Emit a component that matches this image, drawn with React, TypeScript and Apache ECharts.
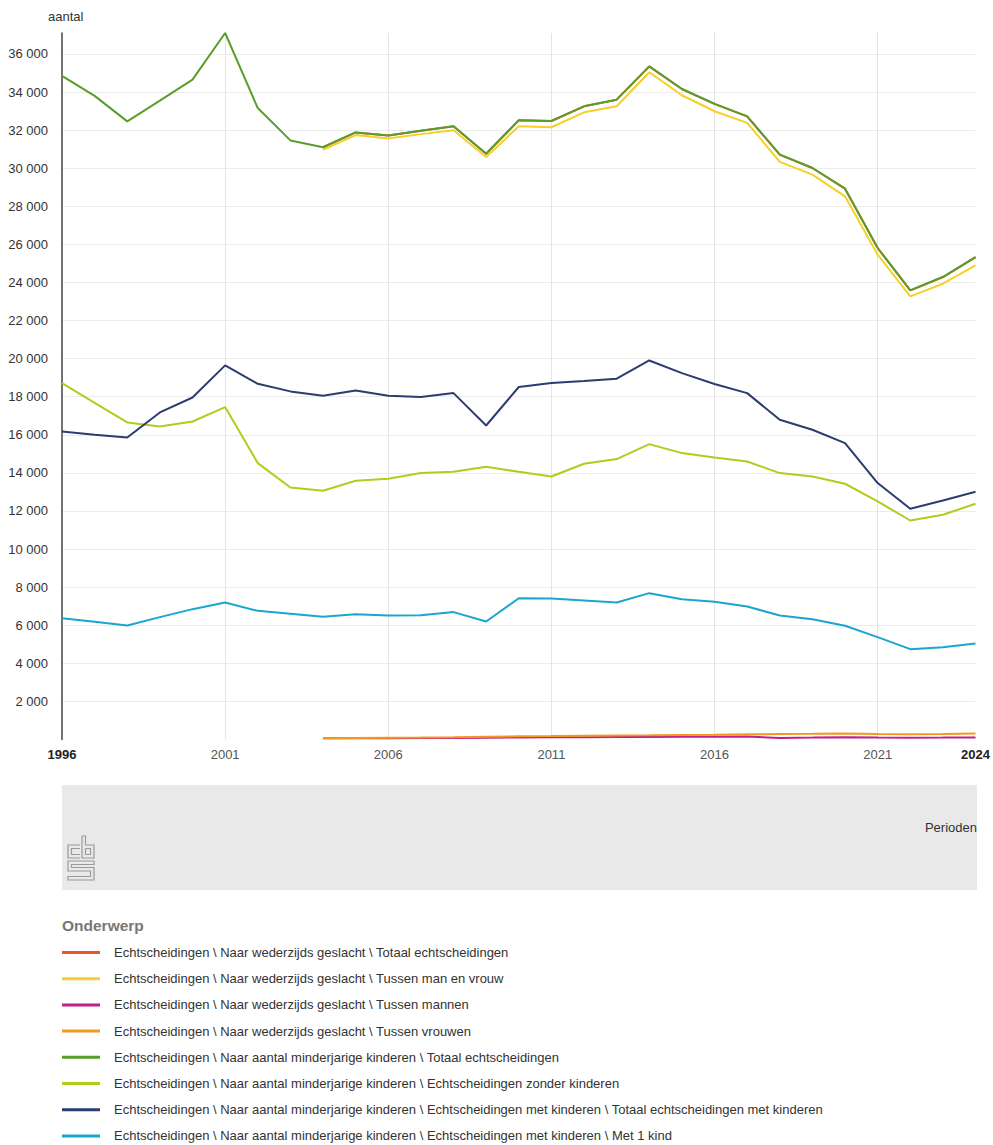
import React, { useEffect, useRef } from "react";
import * as echarts from "echarts";

const years = [
  "1996","1997","1998","1999","2000","2001","2002","2003","2004","2005",
  "2006","2007","2008","2009","2010","2011","2012","2013","2014","2015",
  "2016","2017","2018","2019","2020","2021","2022","2023","2024",
];

const seriesNames = [
  "Echtscheidingen \\ Naar wederzijds geslacht \\ Totaal echtscheidingen",
  "Echtscheidingen \\ Naar wederzijds geslacht \\ Tussen man en vrouw",
  "Echtscheidingen \\ Naar wederzijds geslacht \\ Tussen mannen",
  "Echtscheidingen \\ Naar wederzijds geslacht \\ Tussen vrouwen",
  "Echtscheidingen \\ Naar aantal minderjarige kinderen \\ Totaal echtscheidingen",
  "Echtscheidingen \\ Naar aantal minderjarige kinderen \\ Echtscheidingen zonder kinderen",
  "Echtscheidingen \\ Naar aantal minderjarige kinderen \\ Echtscheidingen met kinderen \\ Totaal echtscheidingen met kinderen",
  "Echtscheidingen \\ Naar aantal minderjarige kinderen \\ Echtscheidingen met kinderen \\ Met 1 kind",
];

const colors = ["#e8562a", "#f7cf2a", "#c0208c", "#f39a1e", "#5a9e2a", "#b2cc1c", "#2b3d70", "#1aa6cf"];

// Naar wederzijds geslacht (from 2004)
const totaalGeslacht = [null, null, null, null, null, null, null, null,
  31100, 31880, 31720, 31970, 32200, 30760, 32515, 32480, 33250, 33600, 35350, 34160,
  33375, 32725, 30710, 30010, 28925, 25810, 23585, 24285, 25335];
const manEnVrouw = [null, null, null, null, null, null, null, null,
  30970, 31740, 31560, 31790, 31995, 30590, 32200, 32150, 32935, 33250, 35040, 33830,
  32990, 32380, 30330, 29665, 28525, 25460, 23270, 23935, 24900];
const tussenMannen = [null, null, null, null, null, null, null, null,
  60, 65, 70, 75, 85, 90, 110, 115, 120, 125, 130, 140,
  150, 155, 85, 100, 120, 105, 95, 100, 110];
const tussenVrouwen = [null, null, null, null, null, null, null, null,
  70, 80, 95, 105, 120, 140, 165, 180, 200, 210, 220, 235,
  250, 270, 290, 300, 320, 290, 280, 290, 310];

// Naar aantal minderjarige kinderen
const totaalKinderen = [34850, 33800, 32460, 33550, 34650, 37100, 33160, 31460, 31100, 31880,
  31720, 31970, 32200, 30760, 32515, 32480, 33250, 33600, 35350, 34160,
  33375, 32725, 30710, 30010, 28925, 25810, 23585, 24285, 25335];
const zonderKinderen = [18715, 17680, 16650, 16440, 16700, 17455, 14515, 13235, 13060, 13585,
  13690, 13990, 14060, 14320, 14060, 13810, 14480, 14725, 15510, 15040,
  14810, 14600, 13990, 13810, 13430, 12500, 11500, 11800, 12380];
const metKinderen = [16175, 16000, 15860, 17175, 17960, 19645, 18680, 18280, 18050, 18330,
  18050, 17980, 18190, 16490, 18510, 18720, 18825, 18945, 19905, 19240,
  18665, 18190, 16790, 16265, 15565, 13465, 12115, 12550, 13010];
const met1Kind = [6370, 6180, 5985, 6425, 6845, 7195, 6755, 6600, 6440, 6580,
  6510, 6530, 6690, 6195, 7420, 7400, 7300, 7190, 7685, 7370,
  7230, 6985, 6510, 6320, 5970, 5375, 4745, 4850, 5040];

const seriesData = [totaalGeslacht, manEnVrouw, tussenMannen, tussenVrouwen,
  totaalKinderen, zonderKinderen, metKinderen, met1Kind];

const FONT = '"Liberation Sans", Arial, sans-serif';

function fmt(v: number): string {
  const s = String(Math.round(v));
  return s.replace(/\B(?=(\d{3})+(?!\d))/g, " ");
}

export default function App() {
  const ref = useRef<HTMLDivElement>(null);
  useEffect(() => {
    if (!ref.current) return;
    const chart = echarts.init(ref.current, null, { renderer: "svg" });
    const last = years.length - 1;
    const logoStroke = { stroke: "#9a9a9a", lineWidth: 1.2, fill: "none" };
    chart.setOption({
      animation: false,
      textStyle: { fontFamily: FONT },
      grid: { left: 62, right: 17, top: 33, bottom: 405.5, containLabel: false },
      xAxis: {
        type: "category",
        data: years,
        boundaryGap: false,
        axisLine: { show: false },
        axisTick: { show: false },
        axisLabel: {
          interval: (i: number) => i % 5 === 0 || i === last,
          margin: 8,
          fontSize: 13,
          color: "#555",
          fontFamily: FONT,
          formatter: (v: string, i: number) => (i === 0 || i === last ? `{b|${v}}` : v),
          rich: { b: { fontWeight: "bold", color: "#222", fontSize: 13, fontFamily: FONT } },
        },
        splitLine: {
          show: true,
          interval: (i: number) => i % 5 === 0 && i !== 0,
          lineStyle: { color: "#e4e4e4", width: 1 },
        },
      },
      yAxis: {
        type: "value",
        min: 0,
        max: (v: any) => v.max,
        interval: 2000,
        axisLine: { show: true, lineStyle: { color: "#444", width: 1.5 } },
        axisTick: { show: false },
        axisLabel: {
          showMinLabel: false,
          showMaxLabel: false,
          margin: 14,
          fontSize: 13,
          color: "#333",
          fontFamily: FONT,
          formatter: (v: number) => (v === 0 || v % 2000 !== 0 ? "" : fmt(v)),
        },
        splitLine: {
          show: true,
          showMinLine: false,
          showMaxLine: false,
          lineStyle: { color: "#ebebeb", width: 1 },
        },
      },
      legend: {
        orient: "vertical",
        left: 62,
        top: 945,
        height: 200,
        padding: 0,
        itemWidth: 38,
        itemHeight: 3,
        itemGap: 11.2,
        icon: "rect",
        selectedMode: false,
        data: seriesNames,
        textStyle: { fontSize: 13, color: "#333", fontFamily: FONT, lineHeight: 15, padding: [0, 0, 0, 9] },
      },
      series: seriesNames.map((name, i) => ({
        name,
        type: "line",
        data: seriesData[i],
        showSymbol: false,
        symbol: "none",
        connectNulls: false,
        lineStyle: { color: colors[i], width: 2 },
        itemStyle: { color: colors[i] },
        z: 2 + i,
      })),
      graphic: [
        {
          type: "text",
          left: 48,
          top: 10,
          style: { text: "aantal", fontSize: 13, fill: "#333", fontFamily: FONT },
        },
        {
          type: "rect",
          shape: { x: 62, y: 785, width: 915, height: 105 },
          style: { fill: "#e9e9e9" },
          z: -1,
        },
        {
          type: "text",
          x: 977,
          y: 827,
          style: { text: "Perioden", fontSize: 13, fill: "#333", fontFamily: FONT, align: "right", verticalAlign: "middle" },
        },
        {
          type: "group",
          children: [
            { type: "polyline", shape: { points: [[80, 845], [68, 845], [68, 858], [80, 858]] }, style: logoStroke },
            { type: "polyline", shape: { points: [[80, 848.5], [71.5, 848.5], [71.5, 854.5], [80, 854.5]] }, style: logoStroke },
            { type: "polyline", shape: { points: [[82, 836], [82, 858], [94, 858], [94, 845], [85.5, 845], [85.5, 836], [82, 836]] }, style: logoStroke },
            { type: "polyline", shape: { points: [[85.5, 848.5], [90.5, 848.5], [90.5, 854.5], [85.5, 854.5], [85.5, 848.5]] }, style: logoStroke },
            {
              type: "polyline",
              shape: {
                points: [[94, 861], [68, 861], [68, 871], [90.5, 871], [90.5, 876.5], [68, 876.5], [68, 880], [94, 880],
                  [94, 867.5], [71.5, 867.5], [71.5, 864.5], [94, 864.5], [94, 861]],
              },
              style: logoStroke,
            },
          ],
        },
        {
          type: "text",
          left: 62,
          top: 917,
          style: { text: "Onderwerp", fontSize: 15.5, fontWeight: "bold", fill: "#777", fontFamily: FONT },
        },
      ],
    });
    return () => chart.dispose();
  }, []);
  return <div ref={ref} style={{ position: "absolute", left: 0, top: 0, width: 993, height: 1145 }} />;
}
